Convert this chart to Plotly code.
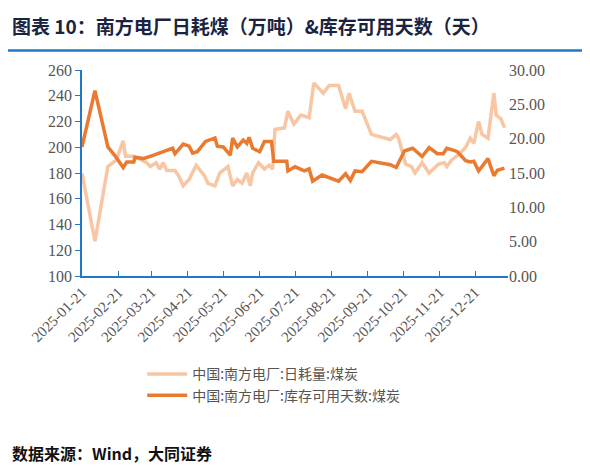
import pandas as pd
import plotly.graph_objects as go

BASE = pd.Timestamp("2025-01-21")

# daily coal consumption (万吨), day offsets from 2025-01-21
burn_days = [0, 11, 22, 29, 35, 37, 44, 50, 55, 58, 63, 66, 69, 72, 79, 82, 86, 91, 97, 104,
             107, 113, 117, 124, 128, 132, 136, 140, 143, 145, 150, 155, 159, 162, 164, 172, 175, 180, 186, 193,
             197, 205, 210, 218, 224, 227, 232, 238, 246, 254, 262, 267, 269, 275, 280, 283, 289, 295, 303, 308,
             310, 314, 321, 326, 330, 333, 337, 340, 345, 350, 352, 356, 359]
burn_vals = [180, 127, 185, 190, 205, 193, 193, 190, 188, 185, 188, 183, 188, 182, 182, 178, 170, 175, 186, 178,
             172, 170, 180, 185, 170, 175, 172, 180, 170, 180, 188, 183, 186, 183, 214, 215, 228, 218, 225, 223,
             250, 242, 248, 248, 230, 242, 228, 228, 210, 208, 206, 210, 207, 187, 185, 180, 188, 180, 187, 188,
             185, 190, 195, 200, 207, 203, 220, 210, 207, 242, 225, 222, 215]

# inventory days available
stock_days = [0, 11, 22, 29, 35, 38, 44, 45, 52, 56, 61, 69, 77, 79, 86, 91, 94, 98, 105, 113,
              115, 120, 126, 128, 132, 137, 140, 142, 145, 151, 155, 161, 163, 174, 175, 181, 189, 193, 196, 204,
              210, 218, 224, 228, 232, 238, 246, 254, 262, 267, 274, 281, 289, 295, 302, 307, 310, 316, 319, 326,
              330, 333, 337, 345, 350, 353, 359]
stock_vals = [18.8, 27.0, 18.8, 17.3, 15.8, 16.6, 16.6, 17.3, 17.1, 17.3, 17.6, 18.1, 18.6, 17.8, 19.2, 18.9, 17.9, 18.1, 19.6, 20.1,
              18.9, 18.8, 17.6, 20.1, 18.8, 19.8, 19.3, 20.2, 18.6, 18.1, 19.6, 19.6, 16.7, 16.7, 15.3, 15.9, 15.3, 15.6, 13.8, 14.7,
              14.3, 13.8, 14.9, 13.9, 15.3, 15.2, 16.7, 16.4, 16.2, 15.8, 18.2, 18.6, 17.4, 18.7, 17.8, 17.8, 18.6, 18.3, 18.1, 16.8,
              16.6, 16.7, 15.3, 17.1, 14.6, 15.4, 15.7]

burn_x = [BASE + pd.Timedelta(days=d) for d in burn_days]
stock_x = [BASE + pd.Timedelta(days=d) for d in stock_days]

CJK = "Noto Sans CJK SC"
SERIF = "Liberation Serif"
BLUE = "#1F78C8"

fig = go.Figure()
fig.add_trace(go.Scatter(x=burn_x, y=burn_vals, mode="lines", name="中国:南方电厂:日耗量:煤炭",
                         line=dict(color="#F8C6A2", width=3.5)))
fig.add_trace(go.Scatter(x=stock_x, y=stock_vals, mode="lines", name="中国:南方电厂:库存可用天数:煤炭",
                         line=dict(color="#EA7A30", width=3.5), yaxis="y2"))

fig.update_layout(
    width=590, height=468,
    margin=dict(l=74, r=90, t=62, b=200),
    plot_bgcolor="white", paper_bgcolor="white",
    showlegend=True,
    legend=dict(x=0.45, y=-0.4, xanchor="center", yanchor="top", font=dict(family=CJK, size=14, color="#555"),
                tracegroupgap=10, itemwidth=40),
    xaxis=dict(range=[BASE, BASE + pd.Timedelta(days=362)], tick0=BASE, dtick="M1", tickformat="%Y-%m-%d",
               tickangle=-45, showline=True, linecolor=BLUE, linewidth=1.5, ticks="inside",
               tickcolor=BLUE, ticklen=5, showgrid=False,
               tickfont=dict(family=SERIF, size=15, color="#555")),
    yaxis=dict(range=[100, 260], dtick=20, showline=True, linecolor=BLUE, linewidth=1.5, ticks="outside",
               tickcolor=BLUE, ticklen=5, showgrid=False, zeroline=False,
               tickfont=dict(family=SERIF, size=16, color="#555")),
    yaxis2=dict(range=[0, 30], dtick=5, overlaying="y", side="right", tickformat=".2f", showgrid=False,
                showline=False, zeroline=False, tickfont=dict(family=SERIF, size=16, color="#555")),
    shapes=[dict(type="line", xref="paper", yref="paper", x0=-74/426, x1=516/426, y0=1.095, y1=1.095,
                 line=dict(color=BLUE, width=2.5))],
    annotations=[
        dict(text="<b>图表 10：南方电厂日耗煤（万吨）&库存可用天数（天）</b>", xref="paper", yref="paper",
             x=-72/426, y=1.29, xanchor="left", yanchor="top", showarrow=False,
             font=dict(family=CJK, size=19, color="#1A2340")),
        dict(text="<b>数据来源：Wind，大同证券</b>", xref="paper", yref="paper",
             x=-72/426, y=-0.86, xanchor="left", yanchor="middle", showarrow=False,
             font=dict(family=CJK, size=16, color="#111")),
    ],
)

fig.write_html("out.html")
